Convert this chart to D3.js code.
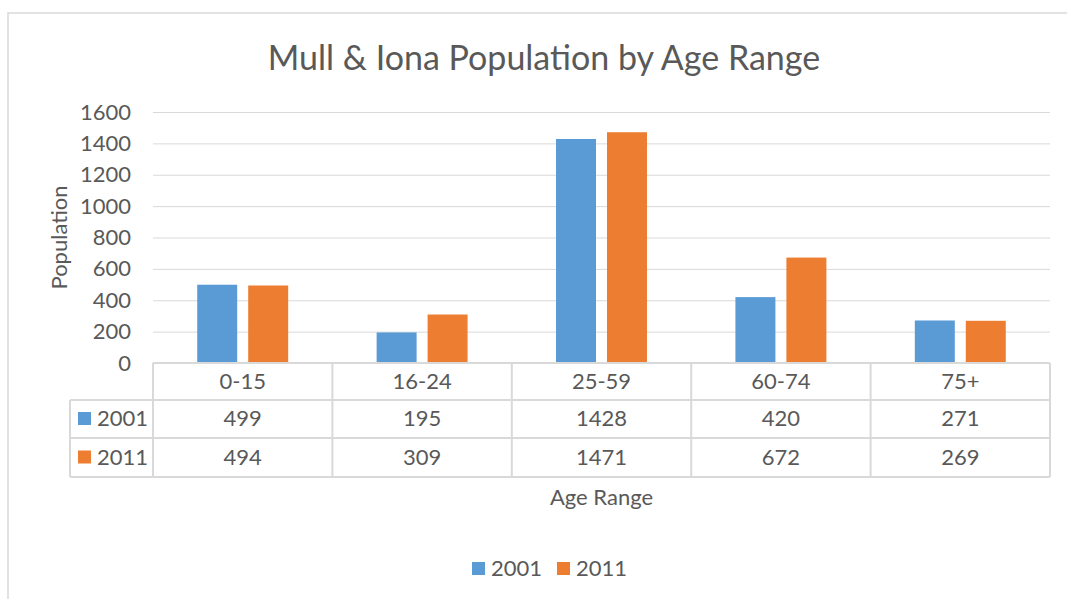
<!DOCTYPE html>
<html>
<head>
<meta charset="utf-8">
<script src="https://cdn.jsdelivr.net/npm/d3@7"></script>
<style>
  body { margin: 0; background: #fff; }
  svg text { font-family: Lato, "Open Sans", sans-serif; fill: #595959; }
</style>
</head>
<body>
<svg id="chart" width="1067" height="599"></svg>
<script>
var categories = ['0-15', '16-24', '25-59', '60-74', '75+'];
var seriesNames = ['2001', '2011'];
var values2001 = [499, 195, 1428, 420, 271];
var values2011 = [494, 309, 1471, 672, 269];
var yTicks = [0, 200, 400, 600, 800, 1000, 1200, 1400, 1600];
var colors = ['#5B9BD5', '#ED7D31'];

(function () {
  'use strict';
  var svg = d3.select('#chart');
  var grey = '#d9d9d9';
  var fs = '22px';
  var seriesValues = [values2001, values2011];

  var plot = { left: 153, right: 1050, top: 112, bottom: 363 };
  var rowH = [37, 38, 39];   // category row, 2001 row, 2011 row
  var keyLeft = 70;

  // chart frame
  svg.append('rect').attr('x', 8).attr('y', 13).attr('width', 1100).attr('height', 700)
    .attr('fill', 'none').attr('stroke', grey).attr('stroke-width', 1.5);

  svg.append('text').attr('x', 544).attr('y', 70).attr('text-anchor', 'middle')
    .style('font-size', '34px').text('Mull & Iona Population by Age Range');

  var x = d3.scaleBand().domain(categories).range([plot.left, plot.right]);
  var groupW = x.bandwidth() * 0.507;
  var xs = d3.scaleBand().domain(seriesNames)
    .range([(x.bandwidth() - groupW) / 2, (x.bandwidth() + groupW) / 2])
    .paddingInner(11 / 51);
  var y = d3.scaleLinear().domain([0, 1600]).range([plot.bottom, plot.top]);

  // gridlines
  svg.append('g').selectAll('line').data(yTicks.slice(1)).enter().append('line')
    .attr('x1', plot.left).attr('x2', plot.right)
    .attr('y1', function (d) { return y(d) + 0.5; }).attr('y2', function (d) { return y(d) + 0.5; })
    .attr('stroke', grey).attr('stroke-width', 1);

  // y axis labels
  var yAxis = d3.axisLeft(y).tickValues(yTicks).tickSize(0).tickPadding(0).tickFormat(d3.format('d'));
  var ya = svg.append('g').attr('transform', 'translate(131,0)').call(yAxis);
  ya.select('.domain').remove();
  ya.attr('font-size', null).attr('font-family', null);
  ya.selectAll('text').style('font-size', fs).attr('fill', '#595959');

  svg.append('text').attr('transform', 'translate(67,' + ((plot.top + plot.bottom) / 2) + ') rotate(-90)')
    .attr('text-anchor', 'middle').style('font-size', fs).text('Population');

  // bars
  seriesNames.forEach(function (s, si) {
    svg.append('g').selectAll('rect').data(seriesValues[si]).enter().append('rect')
      .attr('x', function (d, i) { return x(categories[i]) + xs(s); })
      .attr('width', xs.bandwidth())
      .attr('y', function (d) { return y(d); })
      .attr('height', function (d) { return y(0) - y(d); })
      .attr('fill', colors[si]);
  });

  // data table
  var rowTop = [plot.bottom, plot.bottom + rowH[0], plot.bottom + rowH[0] + rowH[1]];
  var tableBottom = rowTop[2] + rowH[2];
  var t = svg.append('g');
  var hLines = [
    { x1: plot.left, y: rowTop[0] },
    { x1: keyLeft, y: rowTop[1] },
    { x1: keyLeft, y: rowTop[2] },
    { x1: keyLeft, y: tableBottom }
  ];
  t.selectAll('line.h').data(hLines).enter().append('line')
    .attr('x1', function (d) { return d.x1; }).attr('x2', plot.right)
    .attr('y1', function (d) { return d.y; }).attr('y2', function (d) { return d.y; })
    .attr('stroke', grey).attr('stroke-width', 2);
  var vx = categories.map(function (c) { return x(c); }).concat([plot.right]);
  t.selectAll('line.v').data(vx).enter().append('line')
    .attr('x1', function (d) { return d; }).attr('x2', function (d) { return d; })
    .attr('y1', rowTop[0]).attr('y2', tableBottom)
    .attr('stroke', grey).attr('stroke-width', 2);
  t.append('line').attr('x1', keyLeft).attr('x2', keyLeft).attr('y1', rowTop[1]).attr('y2', tableBottom)
    .attr('stroke', grey).attr('stroke-width', 2);

  t.selectAll('text.cat').data(categories).enter().append('text')
    .attr('x', function (d) { return x(d) + x.bandwidth() / 2; })
    .attr('y', rowTop[0] + rowH[0] / 2 + 7)
    .attr('text-anchor', 'middle').style('font-size', fs).text(function (d) { return d; });

  seriesNames.forEach(function (s, si) {
    var ry = rowTop[si + 1] + rowH[si + 1] / 2;
    t.selectAll('text.v' + si).data(seriesValues[si]).enter().append('text')
      .attr('x', function (d, i) { return x(categories[i]) + x.bandwidth() / 2; })
      .attr('y', ry + 7).attr('text-anchor', 'middle').style('font-size', fs)
      .text(function (d) { return d; });
    t.append('rect').attr('x', 78).attr('y', ry - 7).attr('width', 13).attr('height', 13).attr('fill', colors[si]);
    t.append('text').attr('x', 97).attr('y', ry + 7).style('font-size', fs).text(s);
  });

  svg.append('text').attr('x', (plot.left + plot.right) / 2).attr('y', 505)
    .attr('text-anchor', 'middle').style('font-size', fs).text('Age Range');

  // legend
  var legendX = [472, 557];
  seriesNames.forEach(function (s, si) {
    svg.append('rect').attr('x', legendX[si]).attr('y', 562).attr('width', 13).attr('height', 13).attr('fill', colors[si]);
    svg.append('text').attr('x', legendX[si] + 19).attr('y', 576).style('font-size', fs).text(s);
  });
})();
</script>
</body>
</html>
